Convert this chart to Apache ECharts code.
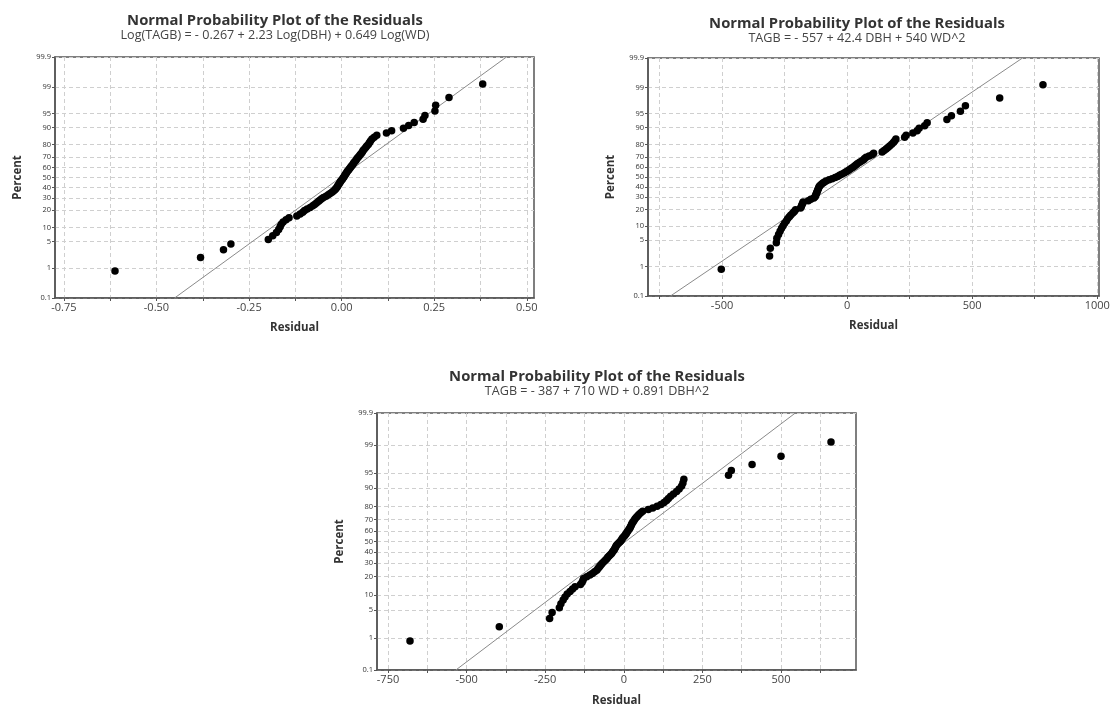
<!DOCTYPE html>
<html>
<head>
<meta charset="utf-8">
<title>Normal Probability Plot of the Residuals</title>
<script src="https://cdn.jsdelivr.net/npm/echarts@6.0.0/dist/echarts.min.js"></script>
<style>
  html, body { margin: 0; padding: 0; background: #fff; }
  #main { width: 1113px; height: 709px; }
</style>
</head>
<body>
<div id="main"></div>
<script>
// percent ticks of the probability axis
var percentTicks = [0.1, 1, 5, 10, 20, 30, 40, 50, 60, 70, 80, 90, 95, 99, 99.9];
var percentLabels = ['0.1', '1', '5', '10', '20', '30', '40', '50', '60', '70', '80', '90', '95', '99', '99.9'];

// residual axis ticks (grid lines) and labels
var xGrid1 = [-0.75, -0.625, -0.5, -0.375, -0.25, -0.125, 0, 0.125, 0.25, 0.375, 0.5];
var xLabels1 = [-0.75, -0.5, -0.25, 0, 0.25, 0.5];
var xGrid2 = [-750, -500, -250, 0, 250, 500, 750, 1000];
var xLabels2 = [-500, 0, 500, 1000];
var xGrid3 = [-750, -625, -500, -375, -250, -125, 0, 125, 250, 375, 500, 625];
var xLabels3 = [-750, -500, -250, 0, 250, 500];

// sorted residuals
var resid1 = [-0.612, -0.381, -0.319, -0.299, -0.198, -0.186, -0.176, -0.170, -0.166, -0.163,
  -0.158, -0.150, -0.142, -0.121, -0.112, -0.105, -0.100, -0.093, -0.085, -0.078,
  -0.073, -0.068, -0.063, -0.059, -0.054, -0.049, -0.042, -0.036, -0.031, -0.026,
  -0.022, -0.018, -0.016, -0.013, -0.011, -0.009, -0.007, -0.005, -0.003, -0.001,
  0.002, 0.004, 0.006, 0.008, 0.010, 0.012, 0.014, 0.016, 0.019, 0.021,
  0.024, 0.026, 0.029, 0.031, 0.033, 0.036, 0.039, 0.041, 0.044, 0.047,
  0.050, 0.053, 0.056, 0.058, 0.061, 0.065, 0.068, 0.072, 0.075, 0.078,
  0.082, 0.088, 0.095, 0.121, 0.135, 0.167, 0.181, 0.196, 0.220, 0.225,
  0.252, 0.254, 0.290, 0.381];

var resid2 = [-503, -310, -307, -283, -281, -274, -268, -262, -256, -250,
  -243, -238, -231, -225, -217, -211, -206, -186, -183, -181,
  -178, -176, -155, -145, -133, -128, -126, -124, -122, -120,
  -118, -116, -114, -112, -109, -104, -98, -92, -84, -72,
  -60, -48, -38, -30, -22, -12, -4, 3, 10, 17,
  24, 30, 36, 42, 50, 58, 66, 70, 76, 88,
  100, 106, 140, 148, 156, 163, 170, 178, 185, 190,
  195, 230, 236, 263, 280, 288, 310, 320, 399, 417,
  453, 473, 610, 783];

var resid3 = [-680, -396, -236, -228, -205, -200, -193, -187, -180, -171,
  -163, -155, -138, -133, -130, -128, -118, -108, -100, -93,
  -86, -82, -78, -75, -71, -67, -62, -58, -54, -51,
  -47, -43, -39, -36, -33, -30, -28, -26, -24, -21,
  -17, -13, -10, -7, -5, -2, 2, 5, 8, 10,
  13, 16, 19, 21, 23, 25, 27, 30, 33, 36,
  40, 44, 48, 54, 60, 78, 92, 106, 118, 128,
  136, 142, 149, 158, 168, 176, 184, 188, 191, 333,
  342, 408, 500, 659];

// fitted normal line (mean, st.dev)
var fit1 = [-0.003, 0.145];
var fit2 = [-2.5, 227.7];
var fit3 = [5.7, 174.7];

// inverse standard normal cdf (Acklam)
function normInv(p) {
  var a = [-3.969683028665376e+01, 2.209460984245205e+02, -2.759285104469687e+02, 1.383577518672690e+02, -3.066479806614716e+01, 2.506628277459239e+00];
  var b = [-5.447609879822406e+01, 1.615858368580409e+02, -1.556989798598866e+02, 6.680131188771972e+01, -1.328068155288572e+01];
  var c = [-7.784894002430293e-03, -3.223964580411365e-01, -2.400758277161838e+00, -2.549732539343734e+00, 4.374664141464968e+00, 2.938163982698783e+00];
  var d = [7.784695709041462e-03, 3.224671290700398e-01, 2.445134137142996e+00, 3.754408661907416e+00];
  var pl = 0.02425, q, r;
  if (p < pl) {
    q = Math.sqrt(-2 * Math.log(p));
    return (((((c[0]*q+c[1])*q+c[2])*q+c[3])*q+c[4])*q+c[5]) / ((((d[0]*q+d[1])*q+d[2])*q+d[3])*q+1);
  }
  if (p > 1 - pl) {
    q = Math.sqrt(-2 * Math.log(1 - p));
    return -(((((c[0]*q+c[1])*q+c[2])*q+c[3])*q+c[4])*q+c[5]) / ((((d[0]*q+d[1])*q+d[2])*q+d[3])*q+1);
  }
  q = p - 0.5; r = q * q;
  return (((((a[0]*r+a[1])*r+a[2])*r+a[3])*r+a[4])*r+a[5])*q / (((((b[0]*r+b[1])*r+b[2])*r+b[3])*r+b[4])*r+1);
}

var zTicks = percentTicks.map(function (p) { return normInv(p / 100); });
var zMin = zTicks[0], zMax = zTicks[zTicks.length - 1];

// plotting positions (median ranks) -> [residual, z]
function probPoints(res) {
  var n = res.length;
  return res.map(function (v, i) { return [v, normInv((i + 1 - 0.3) / (n + 0.4))]; });
}
function fitLine(f) {
  return [[f[0] + f[1] * zMin, zMin], [f[0] + f[1] * zMax, zMax]];
}

var FONT = 'Open Sans';
var gridLine = { show: true, lineStyle: { color: '#cfcfcf', type: [4, 3], width: 1 } };
var frameColor = '#555';

function yAxisFor(idx) {
  return {
    type: 'value', gridIndex: idx, min: zMin, max: zMax,
    name: 'Percent', nameLocation: 'middle', nameGap: 31,
    nameTextStyle: { fontFamily: FONT, fontWeight: 'bold', fontSize: 11.5, color: '#333' },
    axisLine: { show: true, onZero: false, lineStyle: { color: frameColor, width: 1.5 } },
    axisTick: { show: true, length: 3, customValues: zTicks, lineStyle: { color: frameColor } },
    axisLabel: {
      customValues: zTicks, fontFamily: FONT, fontSize: 7.5, color: '#333', margin: 4,
      formatter: function (v) {
        for (var i = 0; i < zTicks.length; i++) {
          if (Math.abs(zTicks[i] - v) < 1e-6) return percentLabels[i];
        }
        return '';
      }
    },
    splitLine: gridLine
  };
}

function xAxisFor(idx, min, max, grid, labels, dec, gap) {
  return {
    type: 'value', gridIndex: idx, min: min, max: max,
    name: 'Residual', nameLocation: 'middle', nameGap: gap,
    nameTextStyle: { fontFamily: FONT, fontWeight: 'bold', fontSize: 11.5, color: '#333' },
    axisLine: { show: true, onZero: false, lineStyle: { color: frameColor, width: 1.5 } },
    axisTick: { show: true, length: 3, customValues: grid, lineStyle: { color: frameColor } },
    axisLabel: {
      customValues: labels, fontFamily: FONT, fontSize: 11, color: '#444', margin: 4,
      formatter: function (v) { return v.toFixed(dec); }
    },
    splitLine: gridLine
  };
}

function titleFor(x, y, sub) {
  return {
    text: 'Normal Probability Plot of the Residuals', subtext: sub,
    left: x, top: y, textAlign: 'center', padding: 0, itemGap: 1,
    textStyle: { fontFamily: FONT, fontWeight: 'bold', fontSize: 14.8, color: '#333' },
    subtextStyle: { fontFamily: FONT, fontSize: 12.6, color: '#444' }
  };
}

function scatterFor(idx, res) {
  return {
    type: 'scatter', xAxisIndex: idx, yAxisIndex: idx, data: probPoints(res),
    symbolSize: 7.5, itemStyle: { color: '#000', opacity: 1 }, z: 3, silent: true
  };
}
function lineFor(idx, f) {
  return {
    type: 'line', xAxisIndex: idx, yAxisIndex: idx, data: fitLine(f),
    showSymbol: false, lineStyle: { color: '#8a8a8a', width: 1 }, z: 2, silent: true
  };
}

var chart = echarts.init(document.getElementById('main'), null, { renderer: 'canvas' });
chart.setOption({
  backgroundColor: '#fff',
  animation: false,
  title: [
    titleFor(275, 13, 'Log(TAGB) = - 0.267 + 2.23 Log(DBH) + 0.649 Log(WD)'),
    titleFor(857, 16, 'TAGB = - 557 + 42.4 DBH + 540 WD^2'),
    titleFor(597, 369, 'TAGB = - 387 + 710 WD + 0.891 DBH^2')
  ],
  grid: [
    { left: 55, top: 57, width: 479, height: 241, show: true, borderColor: frameColor, borderWidth: 1.5 },
    { left: 648, top: 58, width: 451, height: 238, show: true, borderColor: frameColor, borderWidth: 1.5 },
    { left: 377, top: 413, width: 479, height: 257, show: true, borderColor: frameColor, borderWidth: 1.5 }
  ],
  xAxis: [
    xAxisFor(0, -0.774, 0.5195, xGrid1, xLabels1, 2, 24),
    xAxisFor(1, -796, 1007, xGrid2, xLabels2, 0, 24),
    xAxisFor(2, -785, 738.5, xGrid3, xLabels3, 0, 25)
  ],
  yAxis: [yAxisFor(0), yAxisFor(1), yAxisFor(2)],
  series: [
    lineFor(0, fit1), scatterFor(0, resid1),
    lineFor(1, fit2), scatterFor(1, resid2),
    lineFor(2, fit3), scatterFor(2, resid3)
  ]
});
</script>
</body>
</html>
